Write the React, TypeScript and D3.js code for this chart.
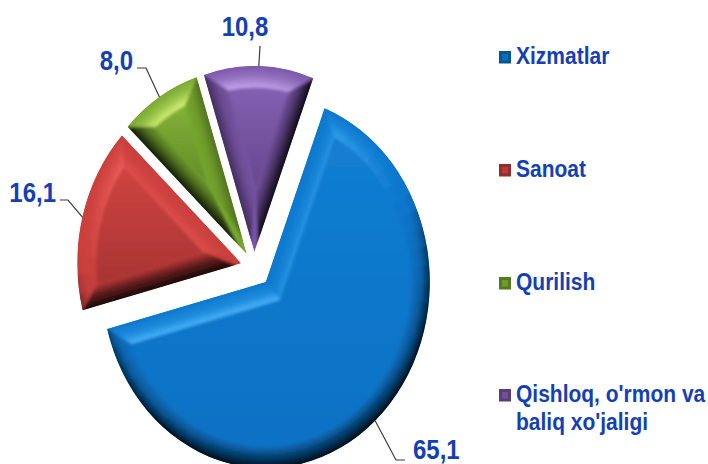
import React from "react";
import * as d3 from "d3";

const categories = ["Xizmatlar", "Sanoat", "Qurilish", "Qishloq, o'rmon va|baliq xo'jaligi"];
const values = [65.1, 16.1, 8.0, 10.8];
const valueLabels = ["65,1", "16,1", "8,0", "10,8"];
const baseColors = ["#0a76cc", "#c83e3c", "#76a72e", "#7a55a8"];
const highlights = ["#4cb6ff", "#ff6a64", "#dcf77e", "#c9aaf0"];
const explode = [0.108, 0.08, 0.08, 0.08];

const W = 708, H = 464;
const CX = 254, CY = 267, R = 164, SY = 1.135;
const START = (21 * Math.PI) / 180;
const BEVEL = 19;
const TEXT = "#1440b6";
const FONT = "'Liberation Sans', Arial, sans-serif";

// leader elbows and label anchors [elbowX, elbowY, endX, endY, labelX, labelY, anchor]
const leaderLayout: [number, number, number, number, number, number, string][] = [
  [396, 460, 405, 460, 413, 459, "start"],
  [68, 200, 60, 200, 56, 202, "end"],
  [146, 68, 137, 68, 133, 70, "end"],
  [260, 46, 260, 46, 245, 36, "middle"],
];
const legendY = [57, 170, 283, 395];

const dir = (a: number): [number, number] => [Math.sin(a), -Math.cos(a)];
const mix = (a: string, b: string, t: number) => d3.interpolateRgb(a, b)(Math.max(0, Math.min(1, t)));
const lighting = (nx: number, ny: number) => nx * -0.25 + ny * -0.97 - 0.2;
const shade = (base: string, hl: string, l: number) =>
  l > 0
    ? { outer: mix(base, hl, 0.04 * l), mid: mix(base, hl, 0.4 * l), inner: mix(base, hl, 1.2 * l) }
    : {
        outer: mix(base, "#000000", Math.min(0.88, Math.pow(-l, 0.6))),
        mid: mix(base, "#000000", Math.min(0.5, 0.45 * -l)),
        inner: mix(base, "#000000", 0.06 * -l),
      };
const poly = (pts: number[][]) => "M" + pts.map((p) => p.join(",")).join("L") + "Z";

const pieGen = d3.pie<number>().sort(null).startAngle(START).endAngle(START + 2 * Math.PI);
const arcs = pieGen(values);
const arcGen = d3.arc<any>();

function Slice({ i }: { i: number }) {
  const { startAngle: a0, endAngle: a1 } = arcs[i];
  const base = baseColors[i];
  const hl = highlights[i];
  const mid = (a0 + a1) / 2;
  const half = (a1 - a0) / 2;
  const [bx, by] = dir(mid);
  const ox = bx * explode[i] * R, oy = by * explode[i] * R;
  const ri = R - BEVEL;
  const t = Math.sqrt(ri * ri - BEVEL * BEVEL);
  const da = Math.asin(BEVEL / ri);
  const inApex = [(bx * BEVEL) / Math.sin(half), (by * BEVEL) / Math.sin(half)];
  const d0 = dir(a0), d1 = dir(a1);
  const in0 = [Math.cos(a0), Math.sin(a0)];
  const in1 = [-Math.cos(a1), -Math.sin(a1)];
  const c0 = [d0[0] * t + in0[0] * BEVEL, d0[1] * t + in0[1] * BEVEL];
  const c1 = [d1[0] * t + in1[0] * BEVEL, d1[1] * t + in1[1] * BEVEL];
  const wedge = arcGen({ innerRadius: 0, outerRadius: R, startAngle: a0, endAngle: a1 }) as string;

  const inner = d3.path();
  inner.moveTo(inApex[0], inApex[1]);
  inner.lineTo(c0[0], c0[1]);
  inner.arc(0, 0, ri, a0 + da - Math.PI / 2, a1 - da - Math.PI / 2);
  inner.closePath();

  const steps = d3.range(Math.ceil((a1 - a0) / (Math.PI / 30)));
  const stepA = (a1 - a0) / steps.length;

  const edges = [
    { d: d0, n: [-in0[0], -in0[1]], c: c0, inw: in0 },
    { d: d1, n: [-in1[0], -in1[1]], c: c1, inw: in1 },
  ];
  const EXT = 5;

  return (
    <g transform={`translate(${CX + ox},${CY + oy * SY}) scale(1,${SY})`}>
      <defs>
        <clipPath id={`clip${i}`}>
          <path d={wedge} />
        </clipPath>
        <linearGradient id={`face${i}`} x1="0" y1="0" x2="0" y2="1">
          <stop offset="0" stopColor={mix(base, hl, 0.12)} />
          <stop offset="1" stopColor={mix(base, "#000000", i === 0 ? 0.04 : 0.16)} />
        </linearGradient>
        {steps.map((s) => {
          const a = a0 + (s + 0.5) * stepA;
          const [nx, ny] = dir(a);
          const c = shade(base, hl, lighting(nx, ny));
          return (
            <radialGradient key={s} id={`arc${i}_${s}`} gradientUnits="userSpaceOnUse" cx={0} cy={0} r={R}>
              <stop offset={ri / R} stopColor={c.inner} />
              <stop offset={(ri + BEVEL * 0.55) / R} stopColor={c.mid} />
              <stop offset={1} stopColor={c.outer} />
            </radialGradient>
          );
        })}
        {edges.map((e, k) => {
          const c = shade(base, hl, lighting(e.n[0], e.n[1]));
          return (
            <linearGradient
              key={k}
              id={`edge${i}_${k}`}
              gradientUnits="userSpaceOnUse"
              x1={0}
              y1={0}
              x2={e.inw[0] * BEVEL}
              y2={e.inw[1] * BEVEL}
            >
              <stop offset={0} stopColor={c.outer} />
              <stop offset={0.55} stopColor={c.mid} />
              <stop offset={1} stopColor={c.inner} />
            </linearGradient>
          );
        })}
      </defs>
      <g clipPath={`url(#clip${i})`}>
        <path d={wedge} fill={base} />
        <g filter="url(#soft)">
          {steps.map((s) => (
            <path
              key={s}
              fill={`url(#arc${i}_${s})`}
              d={
                arcGen({
                  innerRadius: ri - 2,
                  outerRadius: R + EXT,
                  startAngle: a0 + s * stepA - 0.01,
                  endAngle: a0 + (s + 1) * stepA + 0.01,
                }) as string
              }
            />
          ))}
          {edges.map((e, k) => (
            <path
              key={k}
              fill={`url(#edge${i}_${k})`}
              d={poly([
                [e.n[0] * EXT, e.n[1] * EXT],
                [e.d[0] * (R + EXT) + e.n[0] * EXT, e.d[1] * (R + EXT) + e.n[1] * EXT],
                e.c,
                inApex,
              ])}
            />
          ))}
          <path d={inner.toString()} fill={`url(#face${i})`} />
        </g>
      </g>
    </g>
  );
}

export default function App() {
  return (
    <svg
      width={W}
      height={H}
      viewBox={`0 0 ${W} ${H}`}
      style={{ position: "absolute", left: 0, top: 0, background: "#fff" }}
    >
      <defs>
        <filter id="soft" x="-10%" y="-10%" width="120%" height="120%">
          <feGaussianBlur stdDeviation="1.6" />
        </filter>
      </defs>
      {arcs.map((_, i) => (
        <Slice key={i} i={i} />
      ))}
      {arcs.map((a, i) => {
        const m = (a.startAngle + a.endAngle) / 2;
        const [x, y] = dir(m);
        const sx = CX + x * (explode[i] * R + R);
        const sy = CY + y * (explode[i] * R + R) * SY;
        const [ex, ey, fx, fy, lx, ly, anchor] = leaderLayout[i];
        return (
          <g key={i}>
            <path d={`M${sx},${sy}L${ex},${ey}L${fx},${fy}`} fill="none" stroke="#3a3a3a" strokeWidth={1.2} />
            <text
              transform={`translate(${lx},${ly}) scale(1,1.12)`}
              textAnchor={anchor}
              fontFamily={FONT}
              fontWeight={700}
              fontSize={24}
              fill={TEXT}
            >
              {valueLabels[i]}
            </text>
          </g>
        );
      })}
      {categories.map((c, i) => {
        const lines = c.split("|");
        const y = legendY[i];
        const mk = d3.rgb(baseColors[i]);
        return (
          <g key={i}>
            <rect x={499} y={y - 6} width={12} height={12.5} fill={mk.darker(0.9).formatHex()} />
            <rect x={502} y={y - 3} width={6} height={6.5} fill={mk.darker(0.2).formatHex()} />
            {lines.map((l, k) => (
              <text
                key={k}
                transform={`translate(516,${y + 7 + k * 28}) scale(1,1.12)`}
                fontFamily={FONT}
                fontWeight={700}
                fontSize={21}
                fill={TEXT}
              >
                {l}
              </text>
            ))}
          </g>
        );
      })}
    </svg>
  );
}
